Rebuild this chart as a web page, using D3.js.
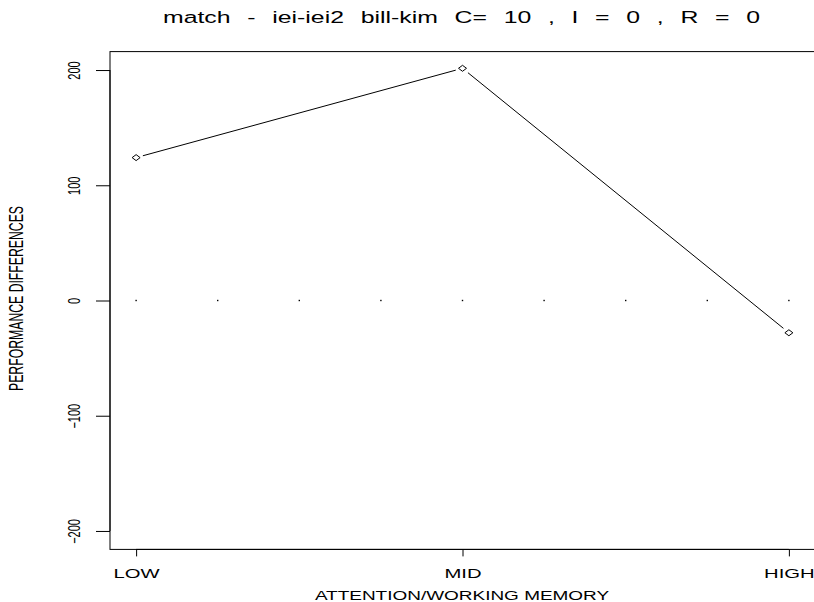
<!DOCTYPE html>
<html><head><meta charset="utf-8">
<script src="https://cdn.jsdelivr.net/npm/d3@7"></script>
<style>body{margin:0;background:#fff}svg{display:block}</style>
</head><body>
<script>
const categories = ["LOW", "MID", "HIGH"];
const values = [124, 201.5, -28];
const yTicks = [-200, -100, 0, 100, 200];
const refX = [1, 1.25, 1.5, 1.75, 2, 2.25, 2.5, 2.75, 3];
const title = "match - iei-iei2 bill-kim C= 10 , I = 0 , R = 0";
const xTitle = "ATTENTION/WORKING MEMORY";
const yTitle = "PERFORMANCE DIFFERENCES";

const W = 814, H = 602;
const SX = 1.46; // horizontal stretch of glyphs seen in the reference
const svg = d3.select("body").append("svg").attr("width", W).attr("height", H);
const x = d3.scaleLinear().domain([0.92, 3.08]).range([110, 815]);
const y = d3.scaleLinear().domain([-216, 216]).range([549.4, 51.6]);
const font = "'Liberation Sans', Arial, Helvetica, sans-serif";

// box
svg.append("rect").attr("x", x.range()[0]).attr("y", y.range()[1])
  .attr("width", x.range()[1] - x.range()[0]).attr("height", y.range()[0] - y.range()[1])
  .attr("fill", "none").attr("stroke", "#000").attr("stroke-width", 1);

// y axis
const yAxis = svg.append("g").attr("transform", `translate(${x.range()[0]},0)`)
  .call(d3.axisLeft(y).tickValues(yTicks).tickSize(14).tickFormat(d3.format("d")));
yAxis.select(".domain").attr("d", `M0,${y(-200)}V${y(200)}`);
yAxis.selectAll(".tick text").remove();
yAxis.selectAll(".tick").append("text")
  .attr("transform", `translate(-30,0) scale(${SX},1) rotate(-90)`)
  .attr("text-anchor", "middle").attr("fill", "#000")
  .attr("font-family", font).attr("font-size", 11)
  .text(d => d3.format("d")(d));

// x axis
const xAxis = svg.append("g").attr("transform", `translate(0,${y.range()[0]})`)
  .call(d3.axisBottom(x).tickValues([1, 2, 3]).tickSize(7).tickFormat((d, i) => categories[i]));
xAxis.select(".domain").attr("d", `M${x(1)},0H${x(3)}`);
xAxis.selectAll(".tick text").attr("dy", 0).attr("y", 0)
  .attr("transform", `translate(0,29) scale(1.5,1)`)
  .attr("font-family", font).attr("font-size", 13.5).attr("fill", "#000");

// reference dots at 0
svg.selectAll(".ref").data(refX).enter().append("rect")
  .attr("x", d => x(d) - 0.7).attr("y", y(0) - 0.7).attr("width", 1.4).attr("height", 1.4).attr("fill", "#000");

// line segments with gaps (type="b")
const pts = values.map((v, i) => [x(i + 1), y(v)]);
const gap = 7;
for (let i = 0; i < pts.length - 1; i++) {
  const [x0, y0] = pts[i], [x1, y1] = pts[i + 1];
  const L = Math.hypot(x1 - x0, y1 - y0), ux = (x1 - x0) / L, uy = (y1 - y0) / L;
  svg.append("line").attr("x1", x0 + ux * gap).attr("y1", y0 + uy * gap)
    .attr("x2", x1 - ux * gap).attr("y2", y1 - uy * gap)
    .attr("stroke", "#000").attr("stroke-width", 1);
}
svg.selectAll(".pt").data(values).enter().append("path")
  .attr("d", (d, i) => { const cx = x(i + 1), cy = y(d); return `M${cx - 4},${cy}L${cx},${cy - 3}L${cx + 4},${cy}L${cx},${cy + 3}Z`; })
  .attr("fill", "none").attr("stroke", "#000").attr("stroke-width", 1);

// title (stretched, with wide word gaps)
const t = svg.append("text").attr("transform", `translate(461.5,23) scale(${SX},1)`)
  .attr("text-anchor", "middle").attr("font-family", font).attr("font-size", 17)
  .style("white-space", "pre").text(title);
const w0 = t.node().getComputedTextLength();
const nSpaces = (title.match(/ /g) || []).length;
const target = 597 / SX;
t.attr("word-spacing", Math.max(0, (target - w0) / nSpaces));

svg.append("text").attr("transform", `translate(462,600) scale(${SX},1)`).attr("text-anchor", "middle")
  .attr("font-family", font).attr("font-size", 13).text(xTitle);
svg.append("text").attr("transform", `translate(23,${y(0) - 2}) scale(${SX},1) rotate(-90)`).attr("text-anchor", "middle")
  .attr("font-family", font).attr("font-size", 13.5)
  .attr("textLength", 185).attr("lengthAdjust", "spacingAndGlyphs").text(yTitle);
</script>
</body></html>
